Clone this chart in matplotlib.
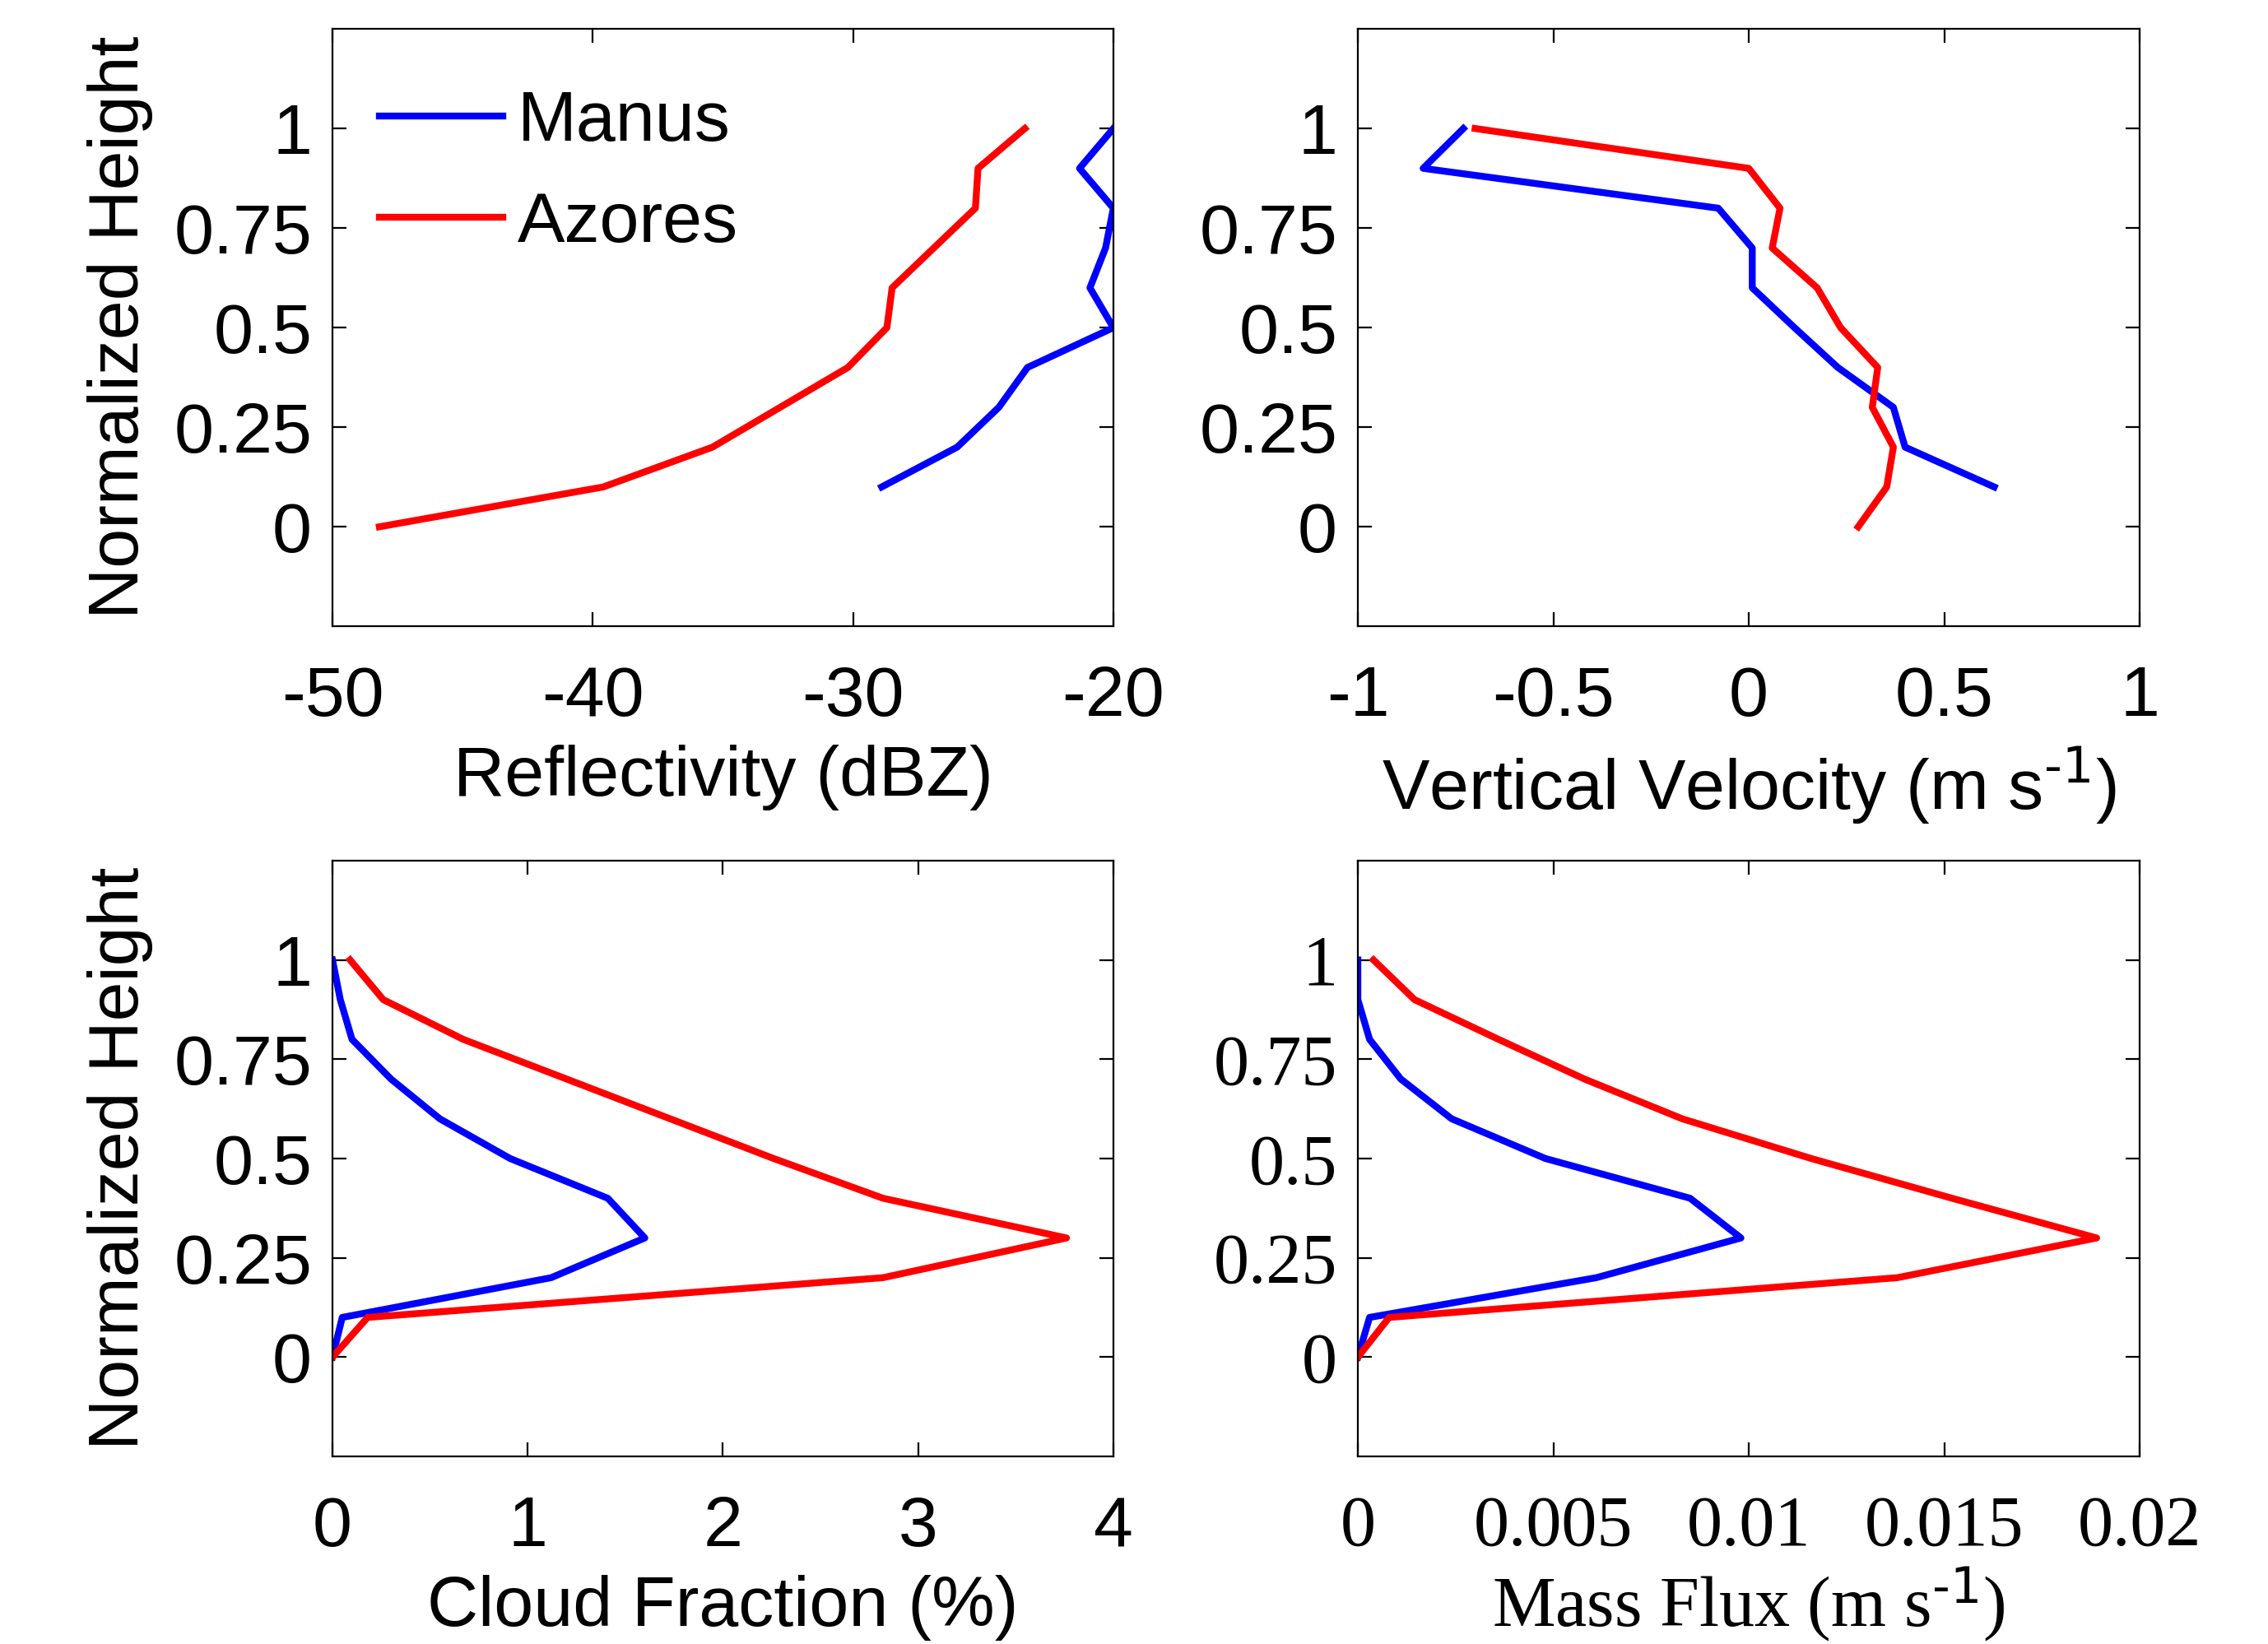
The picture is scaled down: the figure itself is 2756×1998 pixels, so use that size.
import numpy as np
import matplotlib
matplotlib.use('Agg')
import matplotlib.pyplot as plt

plt.rcParams['font.family'] = ['Liberation Sans', 'DejaVu Sans']
plt.rcParams['mathtext.default'] = 'regular'

# normalized height levels
height = [0.0, 0.1, 0.2, 0.3, 0.4, 0.5, 0.6, 0.7, 0.8, 0.9, 1.0]

# reflectivity (dBZ)
refl_manus = [np.nan, -28.9, -26.0, -24.4, -23.3, -20.0, -20.9, -20.3, -20.0, -21.3, -20.0]
refl_azores = [-48.2, -39.6, -35.4, -32.8, -30.2, -28.7, -28.5, -26.9, -25.3, -25.2, -23.4]

# vertical velocity (m/s)
w_manus = [np.nan, 0.628, 0.40, 0.37, 0.228, 0.117, 0.009, 0.009, -0.078, -0.833, -0.73]
w_azores = [0.28, 0.353, 0.37, 0.316, 0.33, 0.235, 0.175, 0.06, 0.08, 0.0, -0.70]

# cloud fraction (%)
cf_manus = [0.0, 0.05, 1.12, 1.60, 1.41, 0.91, 0.55, 0.30, 0.10, 0.04, 0.0]
cf_azores = [0.0, 0.18, 2.82, 3.76, 2.82, 2.26, 1.73, 1.20, 0.67, 0.26, 0.09]

# mass flux (m/s)
mf_manus = [0.0, 0.0003, 0.0061, 0.0098, 0.0085, 0.0048, 0.0024, 0.0011, 0.0003, 0.0, 0.0]
mf_azores = [0.0, 0.0008, 0.0138, 0.0189, 0.0152, 0.0116, 0.0083, 0.0058, 0.0036, 0.00145, 0.0004]

yticks = [0, 0.25, 0.5, 0.75, 1]
yticklabels = ['0', '0.25', '0.5', '0.75', '1']

fig = plt.figure(figsize=(13.78, 9.99), dpi=200)

positions = [
    [0.1466, 0.619, 0.3443, 0.3634],
    [0.5987, 0.619, 0.3447, 0.3634],
    [0.1466, 0.1141, 0.3443, 0.3624],
    [0.5987, 0.1141, 0.3447, 0.3624],
]

sans = 'Liberation Sans'
serif = 'Liberation Serif'
panels = [
    (refl_manus, refl_azores, (-50, -20), [-50, -40, -30, -20], ['-50', '-40', '-30', '-20'],
     'Reflectivity (dBZ)', sans, 6),
    (w_manus, w_azores, (-1, 1), [-1, -0.5, 0, 0.5, 1], ['-1', '-0.5', '0', '0.5', '1'],
     r'Vertical Velocity (m s$^{\text{-1}}$)', sans, 6),
    (cf_manus, cf_azores, (0, 4), [0, 1, 2, 3, 4], ['0', '1', '2', '3', '4'],
     'Cloud Fraction (%)', sans, 6),
    (mf_manus, mf_azores, (0, 0.02), [0, 0.005, 0.01, 0.015, 0.02],
     ['0', '0.005', '0.01', '0.015', '0.02'], r'Mass Flux (m s$^{\text{-1}}$)', serif, 2),
]

fs = 31
for i, (pos, p) in enumerate(zip(positions, panels)):
    manus, azores, xlim, xt, xtl, xlabel, fam, lpad = p
    ax = fig.add_axes(pos)
    ax.plot(manus, height, color='#0000ff', lw=3, label='Manus')
    ax.plot(azores, height, color='#ff0000', lw=3, label='Azores')
    ax.set_xlim(xlim)
    ax.set_ylim(-0.25, 1.25)
    ax.set_xticks(xt)
    ax.set_xticklabels(xtl, family=fam, fontsize=fs)
    ax.set_yticks(yticks)
    ax.set_yticklabels(yticklabels, family=fam, fontsize=fs)
    ax.tick_params(direction='in', top=True, right=True, length=6, width=0.8)
    ax.tick_params(axis='x', pad=17)
    ax.tick_params(axis='y', pad=9)
    for s in ax.spines.values():
        s.set_linewidth(0.8)
    ax.set_xlabel(xlabel, family=fam, fontsize=fs, labelpad=lpad)
    if i % 2 == 0:
        ax.set_ylabel('Normalized Height', family=sans, fontsize=fs, labelpad=9)
    if i == 0:
        ax.legend(loc='upper left', bbox_to_anchor=(-0.022, 1.005), frameon=False,
                  prop={'family': sans, 'size': fs},
                  handlelength=1.75, handletextpad=0.2, labelspacing=0.5)

fig.savefig('out.png', dpi=200)
